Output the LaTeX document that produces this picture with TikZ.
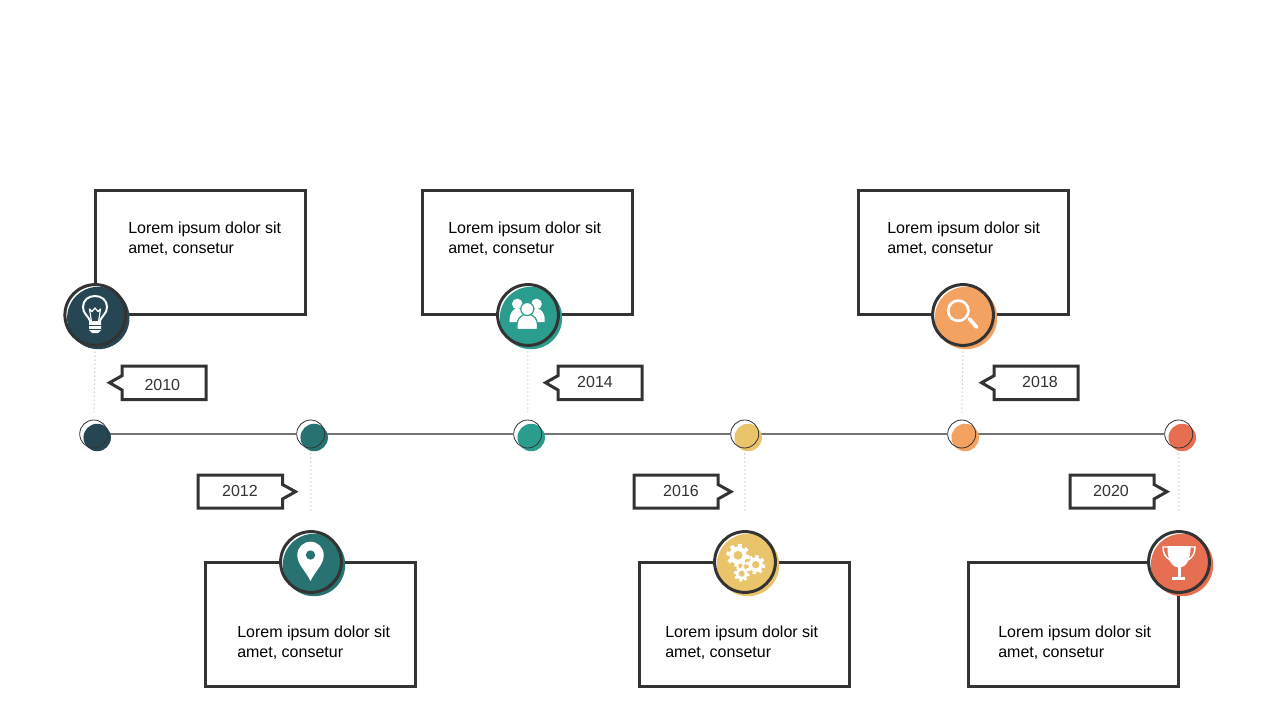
\documentclass[tikz,border=0pt]{standalone}
\usepackage{fontspec}
\setmainfont{Liberation Sans}
\definecolor{cA}{HTML}{264653}
\definecolor{cB}{HTML}{287271}
\definecolor{cC}{HTML}{2A9D8F}
\definecolor{cD}{HTML}{E9C46A}
\definecolor{cE}{HTML}{F4A261}
\definecolor{cF}{HTML}{E76F51}
\definecolor{ink}{HTML}{333333}
\pgfdeclarelayer{paper}
\pgfdeclarelayer{lines}
\pgfsetlayers{paper,lines,main}
\tikzset{
  px/.style={x=0.75pt,y=-0.75pt},
  infobox/.style={draw=ink,fill=white,line width=2.25pt,minimum width=157.7pt,minimum height=93.3pt,inner sep=0pt,outer sep=0pt},
  infotext/.style={anchor=west,inner sep=0pt,align=left,text=black,font=\fontsize{12}{14.7}\selectfont},
  yeartext/.style={inner sep=0pt,text=ink,font=\fontsize{12}{15}\selectfont},
  bigring/.style={circle,draw=ink,line width=2.25pt,minimum size=45.6pt,inner sep=0pt},
  smallring/.style={circle,draw=ink,line width=0.6pt,minimum size=21pt,inner sep=0pt},
  timeline/.style={draw=black!55,line width=0.95pt},
  dotline/.style={draw=black!30,line width=0.75pt,dash pattern=on 0.75pt off 2.25pt},
  dropup/.style={dotline,shorten >=5.6pt,shorten <=3.5pt},
  dropdown/.style={dotline,shorten >=12.75pt,shorten <=3.75pt},
  calloutbox/.style={draw=ink,fill=white,line width=2.25pt,miter limit=10},
}
\newcommand{\bigdisc}[4]{%
  \fill[white] (#2,#3) circle (24pt);
  \fill[#4] (#2+3,#3+3) circle (23.4pt);
  \node[bigring] (#1) at (#2,#3) {};
}
\newcommand{\smalldot}[4]{%
  \fill[white] (#2,#3) circle (10.5pt);
  \fill[#4] (#2+3.5,#3+3.5) circle (10.3pt);
  \node[smallring] (#1) at (#2,#3) {};
}
% left edge, right edge, year, text x, text y
\newcommand{\calloutL}[5]{%
  \draw[calloutbox] (#1,366) -- (#2,366) -- (#2,399.5) -- (#1,399.5) -- (#1,390) -- (#1-12.5,382.7) -- (#1,375.7) -- cycle;
  \node[yeartext] (y#3) at (#4,#5) {#3};
}
\newcommand{\calloutR}[4]{%
  \draw[calloutbox] (#1,475) -- (#2,475) -- (#2,484.5) -- (#2+13,491.7) -- (#2,499) -- (#2,508) -- (#1,508) -- cycle;
  \node[yeartext] (y#3) at (#4,491) {#3};
}
\newcommand{\gearicon}[4]{%
  \fill[white] (#1,#2) circle ({#3*0.57pt});
  \foreach \a in {0,45,...,315}
    \draw[white,line width={#3*0.26pt}] (#1,#2) ++(\a+10:{#3*0.6}) -- ++(\a+10:{#3*0.4});
  \fill[#4] (#1,#2) circle ({#3*0.29pt});
}
\begin{document}
\begin{tikzpicture}[px]
\useasboundingbox (0,0) rectangle (1280,720);
\begin{pgfonlayer}{paper}
\fill[white] (0,0) rectangle (1280,720);
\end{pgfonlayer}

% text boxes
\node[infobox] (b1) at (200.5,252.5) {};
\node[infobox] (b2) at (527.5,252.5) {};
\node[infobox] (b3) at (963.5,252.5) {};
\node[infobox] (b4) at (310.5,624.5) {};
\node[infobox] (b5) at (744.5,624.5) {};
\node[infobox] (b6) at (1073.5,624.5) {};
\node[infotext] (t1) at (128,239) {Lorem ipsum dolor sit\\amet, consetur};
\node[infotext] (t2) at (448,239) {Lorem ipsum dolor sit\\amet, consetur};
\node[infotext] (t3) at (887,239) {Lorem ipsum dolor sit\\amet, consetur};
\node[infotext] (t4) at (237,643) {Lorem ipsum dolor sit\\amet, consetur};
\node[infotext] (t5) at (665,643) {Lorem ipsum dolor sit\\amet, consetur};
\node[infotext] (t6) at (998,643) {Lorem ipsum dolor sit\\amet, consetur};

% timeline dots
\smalldot{d1}{93.7}{434}{cA}
\smalldot{d2}{310.7}{434}{cB}
\smalldot{d3}{527.7}{434}{cC}
\smalldot{d4}{744.7}{434}{cD}
\smalldot{d5}{961.7}{434}{cE}
\smalldot{d6}{1178.7}{434}{cF}

% icon discs
\bigdisc{i1}{95.3}{315}{cA}
\bigdisc{i2}{311}{562}{cB}
\bigdisc{i3}{528}{315}{cC}
\bigdisc{i4}{745}{562}{cD}
\bigdisc{i5}{963}{315}{cE}
\bigdisc{i6}{1179}{562}{cF}

\begin{pgfonlayer}{lines}
\draw[timeline] (d1) -- (d2);
\draw[timeline] (d2) -- (d3);
\draw[timeline] (d3) -- (d4);
\draw[timeline] (d4) -- (d5);
\draw[timeline] (d5) -- (d6);
\draw[dropup] (i1.south) -- (d1.north);
\draw[dropdown] (d2.south) -- (i2.north);
\draw[dropup] (i3.south) -- (d3.north);
\draw[dropdown] (d4.south) -- (i4.north);
\draw[dropup] (i5.south) -- (d5.north);
\draw[dropdown] (d6.south) -- (i6.north);
\end{pgfonlayer}

% callouts
\calloutL{122}{206}{2010}{162.3}{385.3}
\calloutR{198}{282.5}{2012}{240}
\calloutL{558}{642}{2014}{595}{382.3}
\calloutR{634}{718}{2016}{681}
\calloutL{994}{1078}{2018}{1040}{382.3}
\calloutR{1070}{1154}{2020}{1111}

% bulb
\draw[white,line width=1.5pt,line join=round] (90.5,322) .. controls (88,315) and (83,314) .. (83,307) .. controls (83,300) and (88.5,296) .. (95,296) .. controls (101.5,296) and (107,300) .. (107,307) .. controls (107,314) and (102,315) .. (99.5,322);
\draw[white,line width=0.9pt,line join=round] (91.5,322) -- (89.5,309) -- (92,311.5) -- (95,308) -- (98,311.5) -- (100.5,309) -- (98.5,322);
\fill[white] (89,321) -- (101,321) -- (101,330) -- (98,333) -- (92,333) -- (89,330) -- cycle;
\draw[cA,line width=0.75pt] (89,325.5) -- (101,325.5) (89,329) -- (101,329);

% pin
\fill[white] (310.5,581) .. controls (306,571) and (297.3,565) .. (297.3,555) .. controls (297.3,547.7) and (303.2,541.7) .. (310.5,541.7) .. controls (317.8,541.7) and (323.7,547.7) .. (323.7,555) .. controls (323.7,565) and (315,571) .. (310.5,581) -- cycle;
\fill[cB] (310.5,555) circle (3.5pt);

% people
\fill[white] (509.7,322) .. controls (509,313) and (513,308.5) .. (517.5,308.5) .. controls (522,308.5) and (526,313) .. (525,322) -- cycle;
\fill[white] (544.7,322) .. controls (545.4,313) and (541,308.5) .. (536.5,308.5) .. controls (532,308.5) and (528,313) .. (529,322) -- cycle;
\fill[white] (517.3,304) circle (4pt);
\fill[white] (536.5,304) circle (4pt);
\filldraw[fill=white,draw=cC,line width=0.9pt] (517,329.5) .. controls (516,319) and (521,314) .. (527.3,314) .. controls (533.5,314) and (538.5,319) .. (537.5,329.5) -- cycle;
\filldraw[fill=white,draw=cC,line width=0.9pt] (527.3,309) circle (4.9pt);

% gears
\gearicon{738}{555.3}{11.5}{cD}
\gearicon{755.7}{564.7}{9.5}{cD}
\gearicon{741.7}{573.7}{7.8}{cD}

% magnifier
\draw[white,line width=2pt] (958.3,310.7) circle (7.6pt);
\draw[white,line width=2.8pt,line cap=round] (969.5,319) -- (976.5,327);

% trophy
\fill[white] (1167.5,546) -- (1190.5,546) .. controls (1191,558) and (1187,567.5) .. (1179,567.5) .. controls (1171,567.5) and (1167,558) .. (1167.5,546) -- cycle;
\draw[white,line width=1.1pt] (1168,547) -- (1163,547) .. controls (1163,553) and (1165,557) .. (1170,560);
\draw[white,line width=1.1pt] (1190,547) -- (1195,547) .. controls (1195,553) and (1193,557) .. (1188,560);
\fill[white] (1178,566) rectangle (1180.5,577);
\fill[white] (1172.3,577) rectangle (1185.3,579.5);
\end{tikzpicture}
\end{document}
